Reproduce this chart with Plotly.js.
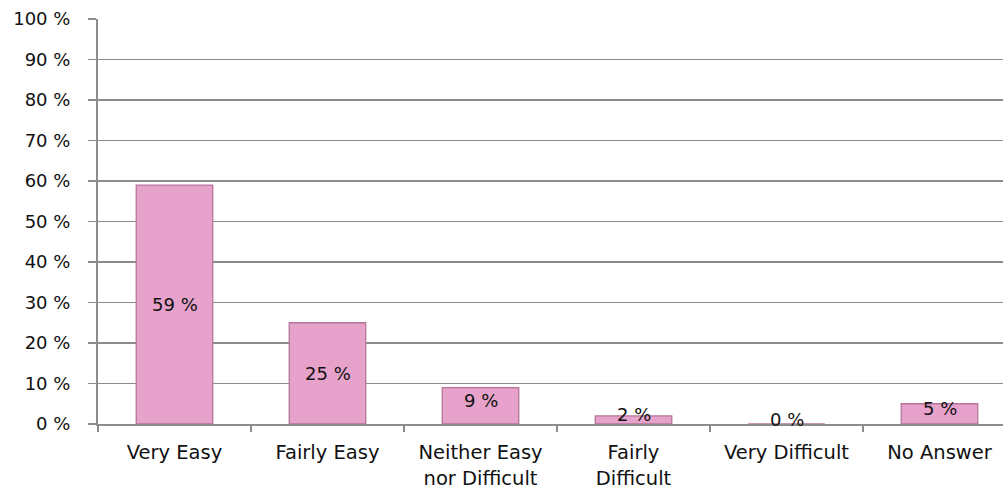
<!DOCTYPE html>
<html><head><meta charset="utf-8">
<script src="https://cdn.plot.ly/plotly-3.0.1.min.js"></script>
<style>body{margin:0;background:#fff}#chart{width:1003px;height:492px}</style>
</head><body><div id="chart"></div>
<script>
const categories = ["Very Easy", "Fairly Easy", "Neither Easy<br>nor Difficult", "Fairly<br>Difficult", "Very Difficult", "No Answer"];
const values = [59, 25, 9, 2, 0, 5];
const labels = ["59 %", "25 %", "9 %", "2 %", "0 %", "5 %"];
const yTickVals = [0,10,20,30,40,50,60,70,80,90,100];
const yTickText = yTickVals.map(v => v + " %");

const font = {family: "DejaVu Sans, sans-serif", size: 18, color: "#111"};
const xFont = {family: "DejaVu Sans, sans-serif", size: 19.5, color: "#111"};

const trace = {
  type: "bar", x: categories, y: values, width: 0.5,
  marker: {color: "#E6A2CA", line: {color: "#B57599", width: 1.3}},
  hoverinfo: "skip"
};

const annotations = categories.map((c, i) => ({
  x: c, y: values[i] / 2, text: labels[i], showarrow: false,
  yanchor: "middle", yshift: values[i] < 15 ? 5 : 0,
  font: font
}));

const layout = {
  width: 1003, height: 492,
  margin: {l: 98, r: 0, t: 19, b: 68},
  paper_bgcolor: "#fff", plot_bgcolor: "#fff",
  showlegend: false, bargap: 0.5,
  font: font,
  xaxis: {
    type: "category", range: [-0.5, 5.415],
    tickson: "boundaries", ticks: "outside", ticklen: 6, tickwidth: 1.5, tickcolor: "#8c8c8c",
    showline: true, linecolor: "#8c8c8c", linewidth: 2,
    showgrid: false, tickfont: xFont, ticklabelstandoff: 10, fixedrange: true
  },
  yaxis: {
    range: [0, 100], tickvals: yTickVals, ticktext: yTickText,
    ticks: "outside", ticklen: 8, tickwidth: 1.5, tickcolor: "#8c8c8c",
    showline: true, linecolor: "#8c8c8c", linewidth: 2,
    showgrid: true, gridcolor: "#8c8c8c", gridwidth: 1.5,
    zeroline: false, tickfont: font, ticklabelstandoff: 14, fixedrange: true
  },
  annotations: annotations
};

Plotly.newPlot("chart", [trace], layout, {displayModeBar: false, staticPlot: true});
</script></body></html>
